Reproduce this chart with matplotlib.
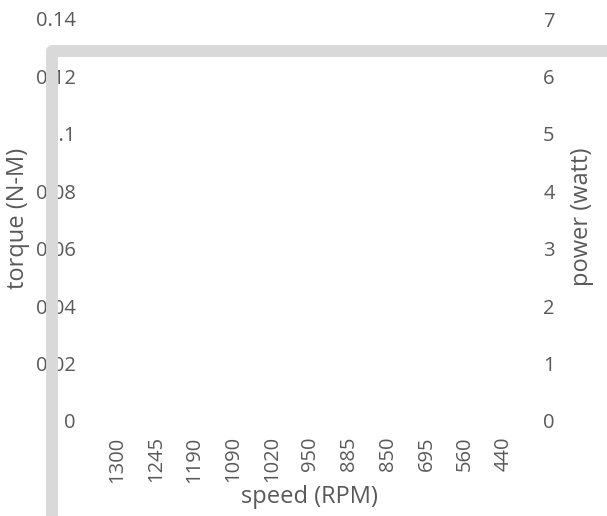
import matplotlib
matplotlib.use("Agg")
import matplotlib.pyplot as plt
from matplotlib.lines import Line2D
from matplotlib.ticker import FuncFormatter

# Motor test: speed categories and axis ranges
speed_rpm = ["1300", "1245", "1190", "1090", "1020", "950", "885", "850", "695", "560", "440"]
torque_ticks = [0, 0.02, 0.04, 0.06, 0.08, 0.1, 0.12, 0.14]
power_ticks = [0, 1, 2, 3, 4, 5, 6, 7]

TEXT = "#595959"
TICK_SIZE = 14.5
LABEL_SIZE = 17
plt.rcParams["font.family"] = ["Open Sans", "DejaVu Sans"]

fig = plt.figure(figsize=(6.07, 5.16), dpi=100)
W, H = 607, 516
ax = fig.add_axes([98 / W, 1 - 421 / H, 425 / W, (421 - 19) / H])
ax2 = ax.twinx()

ax.set_xlim(-0.5, len(speed_rpm) - 0.5)
ax.set_xticks(range(len(speed_rpm)))
ax.set_xticklabels(speed_rpm, rotation=90)

ax.set_ylim(torque_ticks[0], torque_ticks[-1])
ax.set_yticks(torque_ticks)
ax.yaxis.set_major_formatter(FuncFormatter(lambda v, p: f"{v:g}"))
ax2.set_ylim(power_ticks[0], power_ticks[-1])
ax2.set_yticks(power_ticks)

for a in (ax, ax2):
    for s in a.spines.values():
        s.set_visible(False)
    a.tick_params(length=0, colors=TEXT, labelsize=TICK_SIZE)
ax.tick_params(axis="y", pad=16)
ax2.tick_params(axis="y", pad=14.5)
ax.tick_params(axis="x", pad=11)

# axis titles
fig.text(309 / W, 1 - 497 / H, "speed (RPM)", color=TEXT, fontsize=LABEL_SIZE,
         ha="center", va="center")
fig.text(18 / W, 1 - 218 / H, "torque (N-M)", color=TEXT, fontsize=LABEL_SIZE,
         rotation=90, ha="center", va="center")
fig.text(582 / W, 1 - 217 / H, "power (watt)", color=TEXT, fontsize=LABEL_SIZE,
         rotation=90, ha="center", va="center")

# grey frame stroke along the left and top of the chart
frame = Line2D([52 / W, 52 / W, 1.02], [-0.02, 1 - 51 / H, 1 - 51 / H],
               transform=fig.transFigure, color="#d9d9d9", linewidth=8.6,
               solid_joinstyle="round", solid_capstyle="butt", zorder=5)
fig.add_artist(frame)

fig.savefig("out.png", dpi=100, facecolor="white")
